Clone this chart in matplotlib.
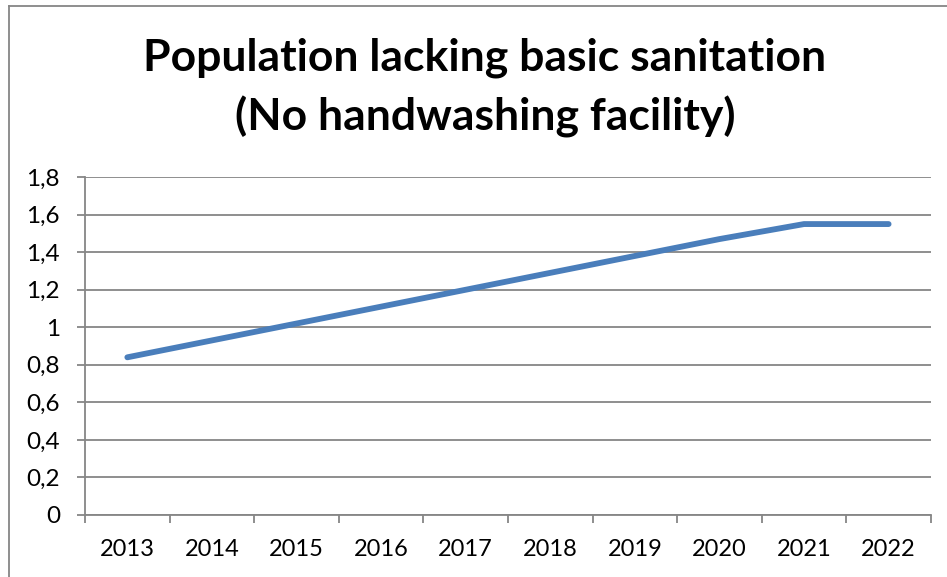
import matplotlib.pyplot as plt
from matplotlib.lines import Line2D
from matplotlib.ticker import FuncFormatter

years = ["2013", "2014", "2015", "2016", "2017", "2018", "2019", "2020", "2021", "2022"]
population = [0.84, 0.93, 1.02, 1.11, 1.20, 1.29, 1.38, 1.47, 1.55, 1.55]
y_ticks = [0, 0.2, 0.4, 0.6, 0.8, 1.0, 1.2, 1.4, 1.6, 1.8]

plt.rcParams["font.family"] = ["Lato", "DejaVu Sans"]
grey = "#868686"

fig = plt.figure(figsize = (9.47, 5.77), dpi = 100)
ax = fig.add_axes([0.0898, 0.1075, 0.8932, 0.5855])

x = list(range(len(years)))
ax.plot(x, population, color = "#4a7ebb", linewidth = 4.2, solid_capstyle = "round", solid_joinstyle = "round", zorder = 3)

ax.set_xlim(-0.5, len(years) - 0.5)
ax.set_ylim(0, 1.8)
ax.set_yticks(y_ticks)
ax.yaxis.set_major_formatter(FuncFormatter(lambda v, p: ("%g" % round(v, 1)).replace(".", ",")))
ax.grid(axis = "y", color = grey, linewidth = 1.3)
ax.set_axisbelow(True)

# category boundaries get the tick marks, centres get the labels
ax.set_xticks([i - 0.5 for i in range(len(years) + 1)])
ax.set_xticklabels([])
ax.set_xticks(x, minor = True)
ax.set_xticklabels(years, minor = True)
ax.tick_params(axis = "x", which = "major", length = 6, width = 1.3, color = grey)
ax.tick_params(axis = "x", which = "minor", length = 0, pad = 17, labelsize = 17)
ax.tick_params(axis = "y", length = 6, width = 1.3, color = grey, pad = 12, labelsize = 17.5)

for side in ["top", "right"]:
    ax.spines[side].set_visible(False)
for side in ["left", "bottom"]:
    ax.spines[side].set_color(grey)
    ax.spines[side].set_linewidth(1.3)

fig.text(0.512, 0.848, "Population lacking basic sanitation\n(No handwashing facility)",
         ha = "center", va = "center", fontsize = 32, fontweight = "bold", linespacing = 1.52)

# chart frame (only top and left edges visible in the crop)
fig.add_artist(Line2D([0.0095, 1.0], [0.99, 0.99], color = grey, linewidth = 1.3))
fig.add_artist(Line2D([0.0095, 0.0095], [0.0, 0.99], color = grey, linewidth = 1.3))

fig.savefig("out.png", dpi = 100)
